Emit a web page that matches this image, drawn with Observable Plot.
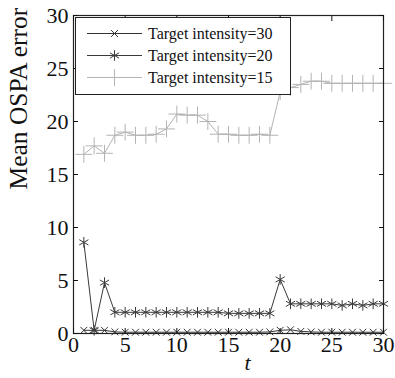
<!DOCTYPE html>
<html>
<head>
<meta charset="utf-8">
<script src="https://cdn.jsdelivr.net/npm/d3@7"></script>
<script src="https://cdn.jsdelivr.net/npm/@observablehq/plot@0.6"></script>
<style>
  body { margin: 0; background: #fff; }
  #wrap { position: relative; width: 395px; height: 378px; font-family: 'Liberation Serif', serif; }
  #wrap svg text { font-family: 'Liberation Serif', serif; }
  #legend { position: absolute; left: 75px; top: 17px; width: 216px; height: 78px; background: #fff; border: 1px solid #222; box-sizing: border-box; }
</style>
</head>
<body>
<div id="wrap"></div>
<script>
const t = [1,2,3,4,5,6,7,8,9,10,11,12,13,14,15,16,17,18,19,20,21,22,23,24,25,26,27,28,29,30];
const s30 = [0.3,0.3,0.3,0.15,0.12,0.12,0.12,0.12,0.12,0.12,0.12,0.12,0.12,0.12,0.12,0.12,0.12,0.12,0.15,0.3,0.35,0.2,0.15,0.12,0.12,0.12,0.12,0.12,0.12,0.12];
const s20 = [8.6,0.3,4.8,2.0,2.0,2.0,2.0,2.0,2.0,2.0,2.0,2.0,2.0,2.0,1.9,1.9,1.9,1.9,1.9,5.1,2.8,2.8,2.8,2.8,2.8,2.65,2.8,2.65,2.8,2.8];
const s15 = [16.9,17.7,17.0,18.7,19.0,18.7,18.7,18.8,19.3,20.7,20.6,20.6,20.0,18.8,18.8,18.7,18.7,18.8,18.7,22.8,23.2,23.5,23.8,23.8,23.6,23.6,23.6,23.6,23.6,23.6];
const seriesNames = ["Target intensity=30", "Target intensity=20", "Target intensity=15"];
const xTicks = [0,5,10,15,20,25,30];
const yTicks = [0,5,10,15,20,25,30];
const xLabel = "t";
const yLabel = "Mean OSPA error";

const FONT = "Liberation Serif";
const styles = [
  {values: s30, stroke: "#333", symbol: "times", r: 3.2},
  {values: s20, stroke: "#3a3a3a", symbol: "asterisk", r: 5},
  {values: s15, stroke: "#b4b4b4", symbol: "plus", r: 5.5}
];

const marks = [];
for (const i of [2,1,0]) {
  const st = styles[i];
  const data = t.map((x, k) => ({t: x, v: st.values[k]}));
  marks.push(Plot.line(data, {x: "t", y: "v", stroke: st.stroke, strokeWidth: 1}));
  marks.push(Plot.dot(data, {x: "t", y: "v", stroke: st.stroke, symbol: st.symbol, r: st.r, strokeWidth: 1}));
}

const fontTick = 22;
const chart = Plot.plot({
  width: 395,
  height: 378,
  marginLeft: 73,
  marginRight: 12,
  marginTop: 15,
  marginBottom: 45,
  style: {fontFamily: FONT, fontSize: fontTick + "px", background: "#fff", color: "#111"},
  x: {domain: [0, 30], axis: null},
  y: {domain: [0, 30], axis: null},
  marks: [
    ...marks,
    Plot.frame({stroke: "#222", strokeWidth: 1.2}),
    Plot.axisX(xTicks, {anchor: "bottom", tickSize: 0, tickPadding: 3, label: null, fontSize: fontTick, fontFamily: FONT}),
    Plot.axisX(xTicks, {anchor: "bottom", tickSize: -5, tickFormat: () => "", label: null}),
    Plot.axisX(xTicks, {anchor: "top", tickSize: -5, tickFormat: () => "", label: null}),
    Plot.axisY(yTicks, {anchor: "left", tickSize: 0, tickPadding: 5, label: null, fontSize: fontTick, fontFamily: FONT}),
    Plot.axisY(yTicks, {anchor: "left", tickSize: -5, tickFormat: () => "", label: null}),
    Plot.axisY(yTicks, {anchor: "right", tickSize: -5, tickFormat: () => "", label: null}),
    Plot.text([xLabel], {frameAnchor: "bottom", dy: 36, dx: 19, fontStyle: "italic", fontSize: 22, fontFamily: FONT, text: d => d}),
    Plot.text([yLabel], {frameAnchor: "left", rotate: -90, dx: -55, dy: 15, fontSize: 25.5, fontFamily: FONT, text: d => d})
  ]
});
const wrap = document.getElementById("wrap");
wrap.appendChild(chart);

const leg = document.createElement("div");
leg.id = "legend";
wrap.appendChild(leg);
const lsvg = d3.select(leg).append("svg").attr("width", 214).attr("height", 76);
styles.forEach((st, i) => {
  const cy = 15.5 + i * 22;
  lsvg.append("line").attr("x1", 11).attr("x2", 66).attr("y1", cy).attr("y2", cy).attr("stroke", st.stroke).attr("stroke-width", 1);
  const sym = {times: d3.symbolTimes, asterisk: d3.symbolAsterisk, plus: d3.symbolPlus}[st.symbol];
  lsvg.append("path").attr("d", d3.symbol(sym, Math.PI * st.r * st.r)()).attr("transform", `translate(38.5,${cy})`).attr("fill", "none").attr("stroke", st.stroke).attr("stroke-width", 1);
  lsvg.append("text").attr("x", 72).attr("y", cy).attr("dy", "0.35em").attr("font-size", 16).attr("font-family", FONT).attr("fill", "#111").text(seriesNames[i]);
});
</script>
</body>
</html>
